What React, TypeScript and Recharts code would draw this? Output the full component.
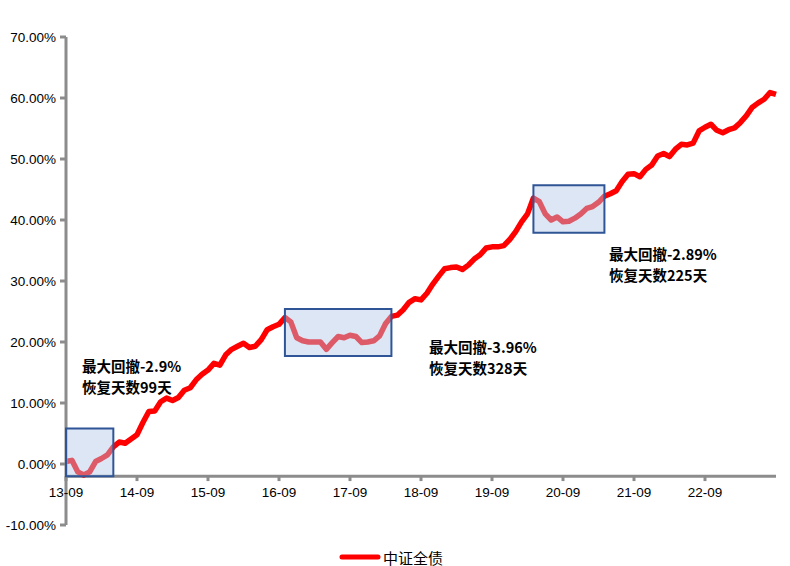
import React from "react";
import { LineChart, Line, XAxis, YAxis, ReferenceLine, ReferenceArea, Legend } from "recharts";

// Monthly categories 13-09 .. 23-09
const months: string[] = [];
for (let i = 0; i < 121; i++) {
  const y = 13 + Math.floor((8 + i) / 12);
  const mo = ((8 + i) % 12) + 1;
  months.push(`${y}-${String(mo).padStart(2, "0")}`);
}

// 中证全债 cumulative return (%)
const values: number[] = [
  0.4, 0.6, -1.3, -1.8, -1.3, 0.4, 0.9, 1.5, 2.8, 3.6,
  3.4, 4.1, 4.8, 6.8, 8.6, 8.7, 10.2, 10.8, 10.4, 10.9,
  12.1, 12.5, 13.8, 14.7, 15.4, 16.5, 16.2, 17.9, 18.8, 19.3,
  19.8, 19.1, 19.3, 20.4, 22.0, 22.5, 22.9, 24.0, 23.3, 20.7,
  20.2, 20.0, 20.0, 20.0, 18.8, 19.9, 20.9, 20.7, 21.1, 20.9,
  19.9, 20.0, 20.2, 21.0, 23.0, 24.2, 24.4, 25.3, 26.5, 27.1,
  26.9, 28.0, 29.5, 30.8, 32.0, 32.2, 32.3, 31.9, 32.6, 33.6,
  34.3, 35.4, 35.6, 35.6, 35.8, 36.8, 38.1, 39.7, 41.0, 43.6,
  43.0, 41.0, 40.0, 40.5, 39.7, 39.8, 40.3, 41.0, 41.9, 42.2,
  42.9, 43.9, 44.3, 44.8, 46.3, 47.5, 47.6, 47.1, 48.3, 49.0,
  50.5, 50.9, 50.4, 51.6, 52.4, 52.3, 52.6, 54.6, 55.2, 55.7,
  54.7, 54.3, 54.8, 55.1, 56.0, 57.1, 58.5, 59.2, 59.8, 60.9,
  60.6,
];

const xTicks = ["13-09", "14-09", "15-09", "16-09", "17-09", "18-09", "19-09", "20-09", "21-09", "22-09"];
const yTicks = [-10, 0, 10, 20, 30, 40, 50, 60, 70];

// Drawdown boxes
const boxStart = ["13-09", "16-10", "20-04"];
const boxEnd = ["14-05", "18-04", "21-04"];
const boxLow = [-2, 17.7, 37.9];
const boxHigh = [5.8, 25.4, 45.7];
const ddValues = ["-2.9%", "-3.96%", "-2.89%"];
const recoveryDays = ["99", "328", "225"];
const notePos = [
  { left: 82, top: 356 },
  { left: 429, top: 337 },
  { left: 609, top: 244 },
];

const data = months.map((m, i) => ({ month: m, value: values[i] }));

const axisColor = "#8c8c8c";
const tickFont = "'Liberation Sans', Arial, sans-serif";

const LegendContent = () => (
  <div style={{ display: "flex", justifyContent: "center", alignItems: "center", height: 18, paddingRight: 8 }}>
    <svg width={42} height={10}>
      <line x1={3} y1={5} x2={39} y2={5} stroke="#ff0000" strokeWidth={5} strokeLinecap="round" />
    </svg>
    <span style={{ marginLeft: 2, fontSize: 15, fontFamily: "'Noto Sans CJK SC', sans-serif", color: "#000" }}>
      中证全债
    </span>
  </div>
);

export default function App() {
  return (
    <div style={{ position: "absolute", left: 0, top: 0, width: 790, height: 566, background: "#fff" }}>
      <LineChart width={790} height={566} data={data} margin={{ top: 37, right: 14, bottom: 23, left: 0 }}>
        <XAxis dataKey="month" hide />
        <YAxis
          width={66}
          domain={[-10, 70]}
          ticks={yTicks}
          interval={0}
          allowDataOverflow
          tickFormatter={(v: number) => `${v.toFixed(2)}%`}
          axisLine={{ stroke: axisColor, strokeWidth: 3 }}
          tickLine={{ stroke: axisColor, strokeWidth: 3 }}
          tickSize={6}
          tickMargin={4}
          tick={{ fill: "#000", fontSize: 13.5, fontFamily: tickFont }}
        />
        <ReferenceLine y={-2} stroke={axisColor} strokeWidth={3} />
        {xTicks.map((t) => (
          <ReferenceLine
            key={t}
            segment={[{ x: t, y: -2 }, { x: t, y: -2.8 }]}
            stroke={axisColor}
            strokeWidth={3}
            ifOverflow="visible"
            label={{ value: t, position: "bottom", offset: 6, fill: "#000", fontSize: 13.5, fontFamily: tickFont }}
          />
        ))}
        <Line
          type="linear"
          dataKey="value"
          name="中证全债"
          stroke="#ff0000"
          strokeWidth={5.5}
          strokeLinejoin="round"
          dot={false}
          isAnimationActive={false}
        />
        {boxStart.map((s, i) => (
          <ReferenceArea
            key={s}
            x1={s}
            x2={boxEnd[i]}
            y1={boxLow[i]}
            y2={boxHigh[i]}
            fill="#b4c7e7"
            fillOpacity={0.45}
            stroke="#2f5597"
            strokeWidth={2}
            ifOverflow="visible"
            zIndex={1000}
          />
        ))}
        <Legend verticalAlign="bottom" content={<LegendContent />} wrapperStyle={{ left: 0, bottom: 0, width: 790, height: 18 }} />
      </LineChart>
      {notePos.map((p, i) => (
        <div
          key={i}
          style={{
            position: "absolute",
            left: p.left,
            top: p.top,
            fontSize: 14.5,
            lineHeight: "20.5px",
            fontWeight: "bold",
            fontFamily: "'Noto Sans CJK SC', sans-serif",
            color: "#000",
            whiteSpace: "nowrap",
          }}
        >
          <div>最大回撤{ddValues[i]}</div>
          <div>恢复天数{recoveryDays[i]}天</div>
        </div>
      ))}
    </div>
  );
}
